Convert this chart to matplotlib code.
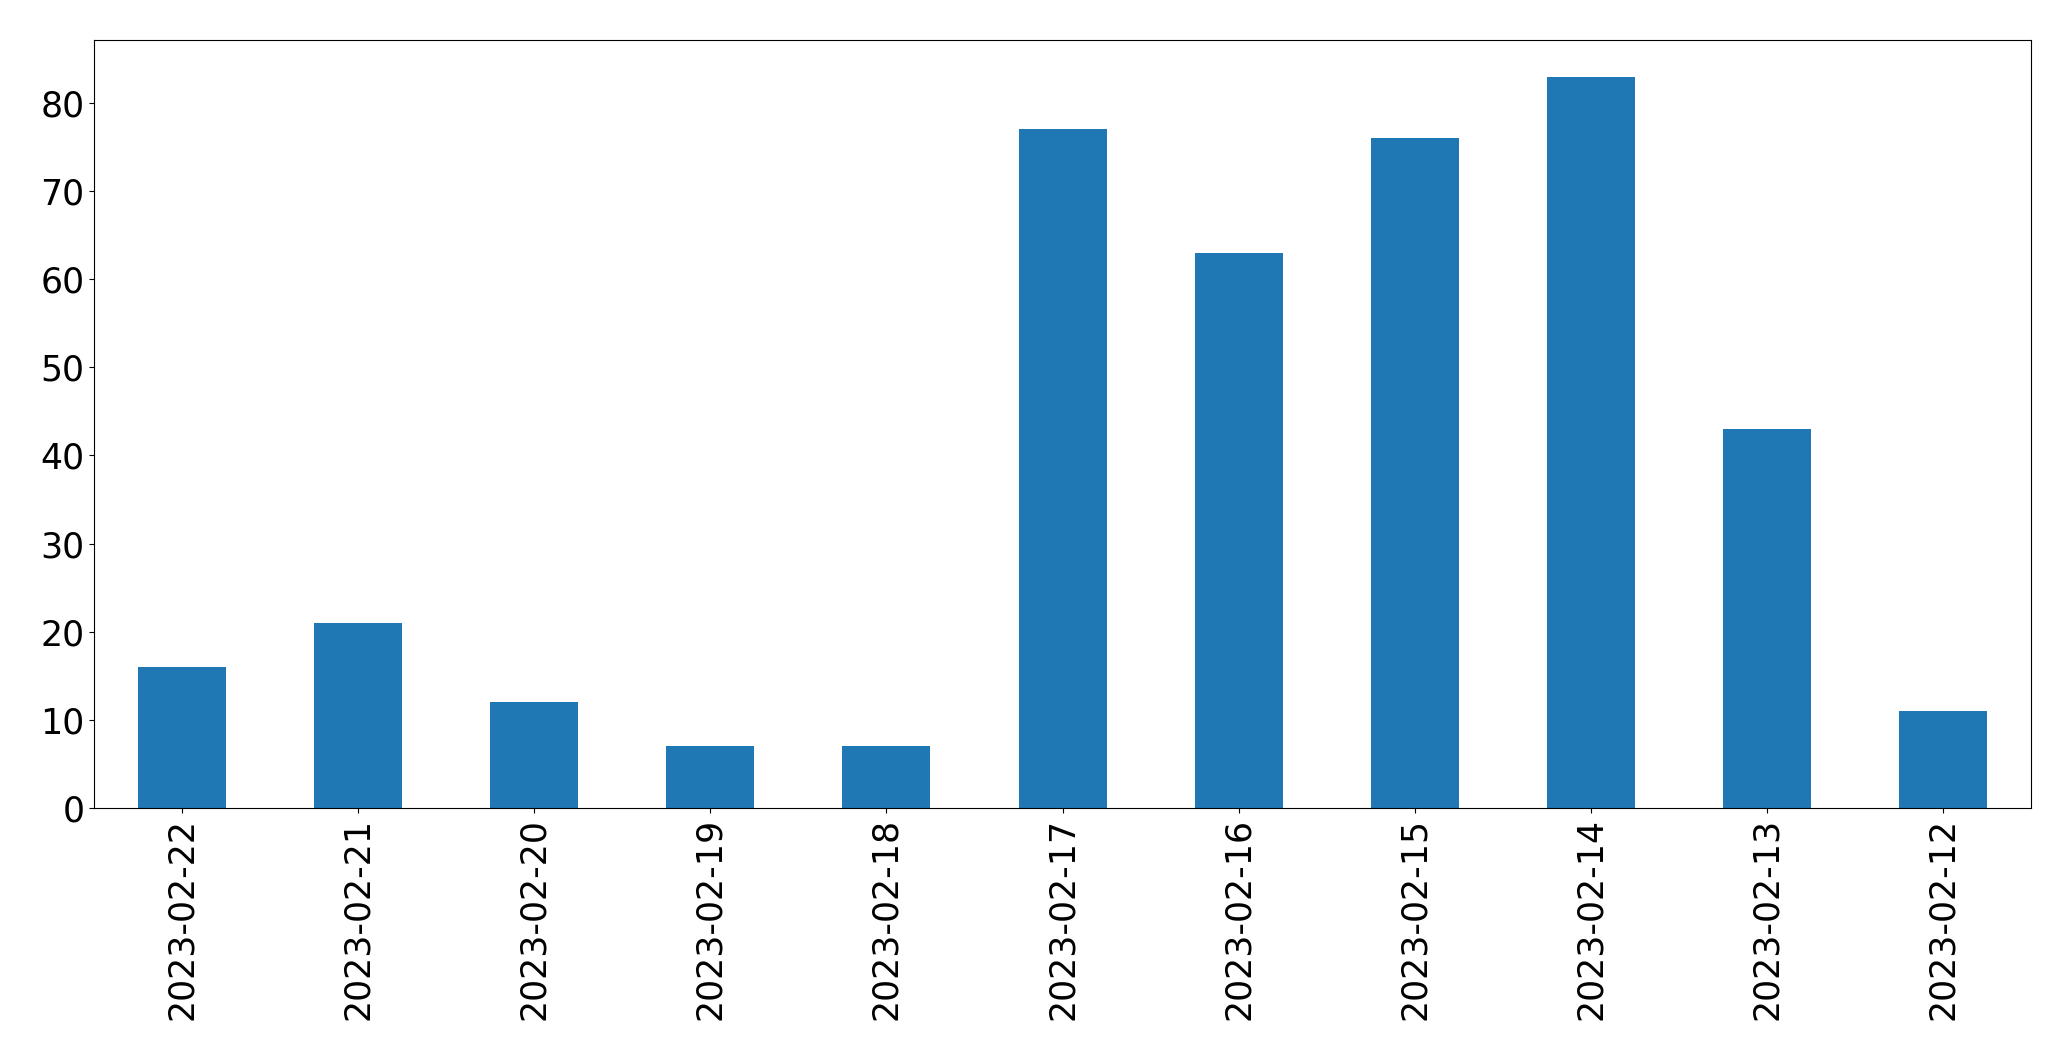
import matplotlib
matplotlib.use('Agg')
import matplotlib.pyplot as plt

dates = ['2023-02-22', '2023-02-21', '2023-02-20', '2023-02-19', '2023-02-18',
         '2023-02-17', '2023-02-16', '2023-02-15', '2023-02-14', '2023-02-13',
         '2023-02-12']
counts = [16, 21, 12, 7, 7, 77, 63, 76, 83, 43, 11]

fig, ax = plt.subplots(figsize=(20.71, 10.61), dpi=100)
ax.bar(range(len(dates)), counts, width=0.5, color='#1f77b4')
ax.set_xticks(range(len(dates)))
ax.set_xticklabels(dates, rotation=90)
ax.set_xlim(-0.5, len(dates) - 0.5)
ax.tick_params(labelsize=25)
fig.subplots_adjust(left=0.0454, right=0.9807, top=0.9623, bottom=0.2385)
fig.savefig('out.png')
